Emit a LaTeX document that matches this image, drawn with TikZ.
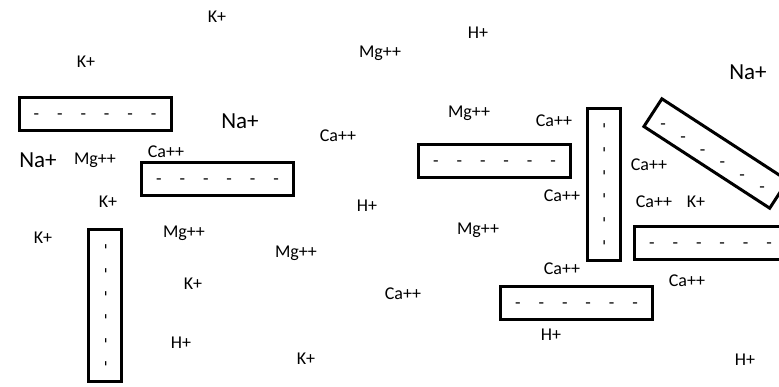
\documentclass[tikz,border=0pt]{standalone}
\usepackage{fontspec}
\setmainfont{Carlito}
\newcommand\dashrow{-\hspace{17.9pt}-\hspace{17.9pt}-\hspace{17.9pt}-\hspace{17.9pt}-\hspace{17.9pt}-}
\begin{document}
\begin{tikzpicture}[x=1pt,y=-1pt,
  ion/.style={font=\fontsize{18}{20}\selectfont, inner sep=0pt, text height=11.6pt, text depth=0pt},
  bigion/.style={font=\fontsize{23}{26}\selectfont, inner sep=0pt, text height=14.8pt, text depth=0pt},
  membrane/.style={draw=black, line width=3pt, minimum width=152pt, minimum height=33pt,
    inner sep=0pt, font=\fontsize{18}{20}\selectfont, text height=11.6pt, text depth=0pt},
  charge/.style={font=\fontsize{18}{20}\selectfont, inner sep=0pt, text height=11.6pt, text depth=0pt},
]
\useasboundingbox (0,0) rectangle (779,386);
\clip (0,0) rectangle (779,386);
\fill[white] (0,0) rectangle (779,386);

% membranes
\node[membrane] (m1) at (95,114) {\dashrow};
\node[membrane] (m2) at (217.5,178.5) {\dashrow};
\node[membrane] (m3) at (494.5,160.5) {\dashrow};
\node[membrane, rotate=90] (m4) at (603.5,184.5) {\dashrow};
\node[membrane] (m5) at (710.5,243) {\dashrow};
\node[membrane] (m6) at (576.5,302.5) {\dashrow};
\node[membrane, rotate=90] (m7) at (105,305.5) {\dashrow};
\node[membrane, rotate=-33, minimum width=150pt] (m8) at (715.8,153.5) {};
\node[charge] (d1) at (663,124) {-};
\node[charge] (d2) at (683,137) {-};
\node[charge] (d3) at (702.6,149.2) {-};
\node[charge] (d4) at (722.4,161.8) {-};
\node[charge] (d5) at (742.2,174.4) {-};
\node[charge] (d6) at (762,187) {-};

% ions
\node[ion] (i1) at (217,17) {K+};
\node[ion] (i2) at (86,62) {K+};
\node[ion] (i3) at (380,52) {Mg++};
\node[ion] (i4) at (478,33) {H+};
\node[bigion] (i5) at (748,72) {Na+};
\node[bigion] (i6) at (240,121) {Na+};
\node[bigion] (i7) at (38,160) {Na+};
\node[ion] (i8) at (95,159) {Mg++};
\node[ion] (i9) at (166,152) {Ca++};
\node[ion] (i10) at (338,136) {Ca++};
\node[ion] (i11) at (469,112) {Mg++};
\node[ion] (i12) at (554,121) {Ca++};
\node[ion] (i13) at (649,165) {Ca++};
\node[ion] (i14) at (562,196) {Ca++};
\node[ion] (i15) at (654,202) {Ca++};
\node[ion] (i16) at (696,202) {K+};
\node[ion] (i17) at (108,202) {K+};
\node[ion] (i18) at (367,206) {H+};
\node[ion] (i19) at (43,238) {K+};
\node[ion] (i20) at (184,232) {Mg++};
\node[ion] (i21) at (478,229) {Mg++};
\node[ion] (i22) at (296,252) {Mg++};
\node[ion] (i23) at (562,269) {Ca++};
\node[ion] (i24) at (687,281) {Ca++};
\node[ion] (i25) at (193,284) {K+};
\node[ion] (i26) at (403,294) {Ca++};
\node[ion] (i27) at (551,335) {H+};
\node[ion] (i28) at (181,343) {H+};
\node[ion] (i29) at (306,359) {K+};
\node[ion] (i30) at (745,360) {H+};
\end{tikzpicture}
\end{document}
